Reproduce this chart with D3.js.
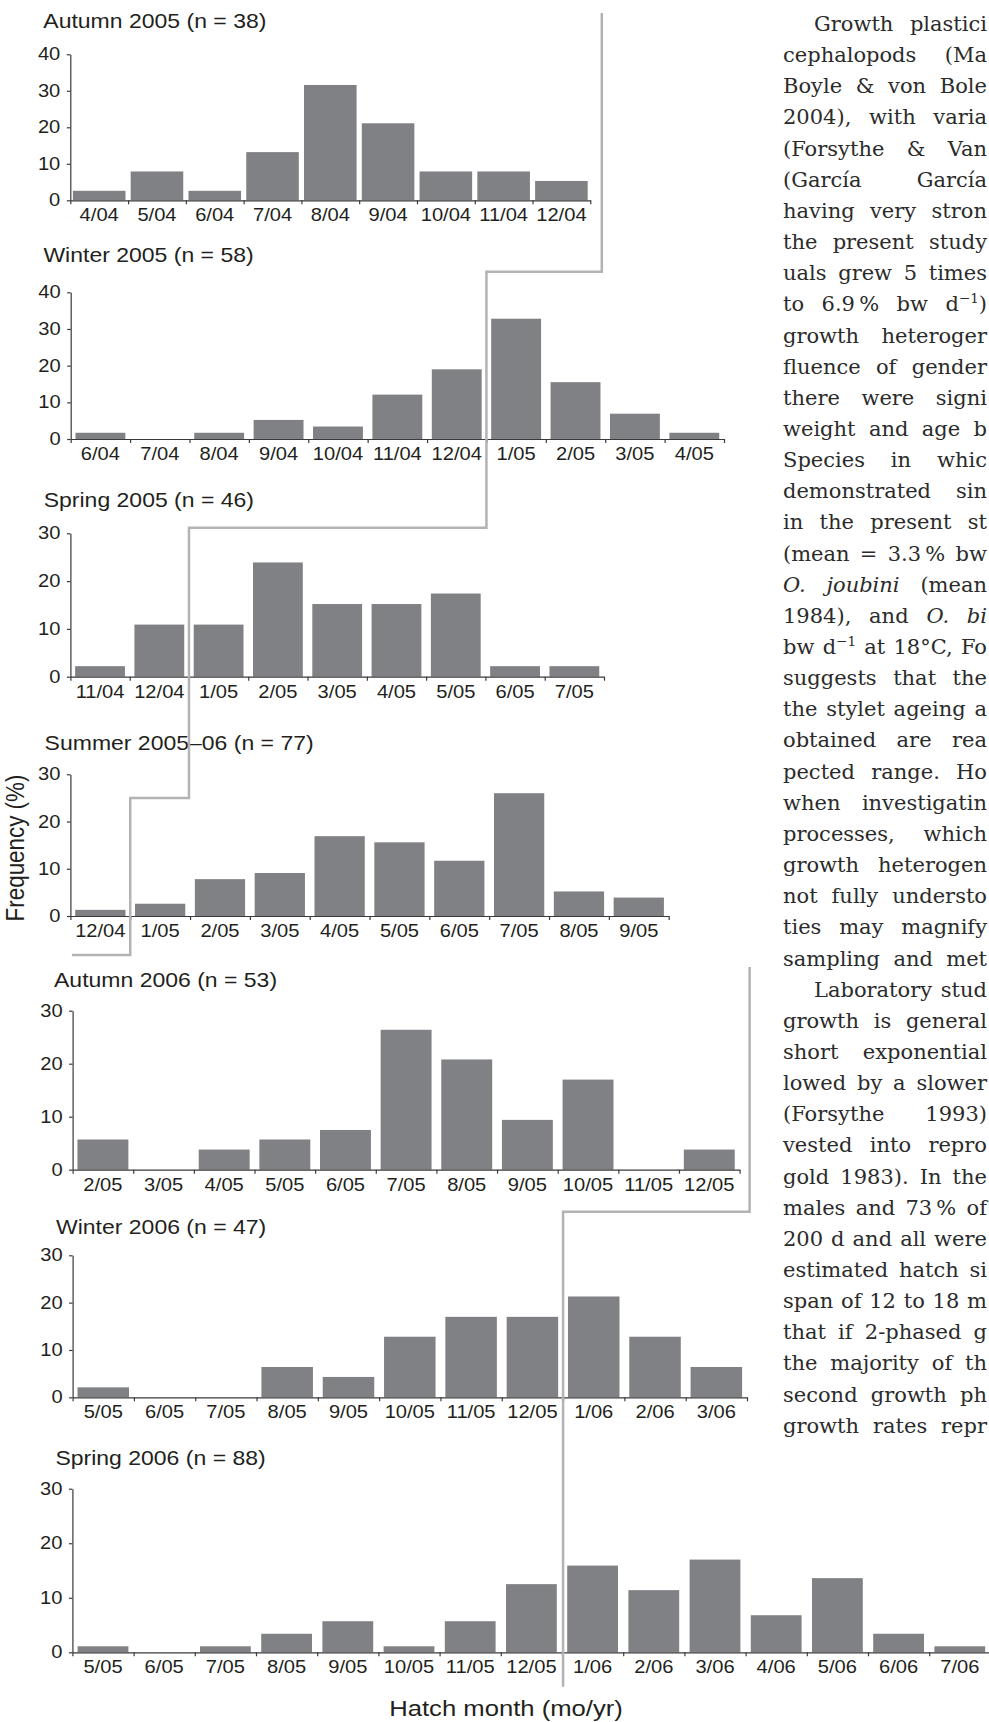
<!DOCTYPE html>
<html><head><meta charset="utf-8">
<script src="https://cdn.jsdelivr.net/npm/d3@7"></script>
<style>html,body{margin:0;padding:0;background:#fff}svg{display:block}</style>
</head><body>
<svg id="c" width="989" height="1722"></svg>
<script>
// ---------------- data ----------------
const titles = ["Autumn 2005 (n = 38)", "Winter 2005 (n = 58)", "Spring 2005 (n = 46)",
  "Summer 2005\u201306 (n = 77)", "Autumn 2006 (n = 53)", "Winter 2006 (n = 47)", "Spring 2006 (n = 88)"];

const monthsAut05 = ["4/04","5/04","6/04","7/04","8/04","9/04","10/04","11/04","12/04"];
const freqAut05   = [2.6, 7.9, 2.6, 13.2, 31.6, 21.1, 7.9, 7.9, 5.3];

const monthsWin05 = ["6/04","7/04","8/04","9/04","10/04","11/04","12/04","1/05","2/05","3/05","4/05"];
const freqWin05   = [1.7, 0, 1.7, 5.2, 3.4, 12.1, 19.0, 32.8, 15.5, 6.9, 1.7];

const monthsSpr05 = ["11/04","12/04","1/05","2/05","3/05","4/05","5/05","6/05","7/05"];
const freqSpr05   = [2.2, 10.9, 10.9, 23.9, 15.2, 15.2, 17.4, 2.2, 2.2];

const monthsSum06 = ["12/04","1/05","2/05","3/05","4/05","5/05","6/05","7/05","8/05","9/05"];
const freqSum06   = [1.3, 2.6, 7.8, 9.1, 16.9, 15.6, 11.7, 26.0, 5.2, 3.9];

const monthsAut06 = ["2/05","3/05","4/05","5/05","6/05","7/05","8/05","9/05","10/05","11/05","12/05"];
const freqAut06   = [5.7, 0, 3.8, 5.7, 7.5, 26.4, 20.8, 9.4, 17.0, 0, 3.8];

const monthsWin06 = ["5/05","6/05","7/05","8/05","9/05","10/05","11/05","12/05","1/06","2/06","3/06"];
const freqWin06   = [2.1, 0, 0, 6.4, 4.3, 12.8, 17.0, 17.0, 21.3, 12.8, 6.4];

const monthsSpr06 = ["5/05","6/05","7/05","8/05","9/05","10/05","11/05","12/05","1/06","2/06","3/06","4/06","5/06","6/06","7/06"];
const freqSpr06   = [1.1, 0, 1.1, 3.4, 5.7, 1.1, 5.7, 12.5, 15.9, 11.4, 17.0, 6.8, 13.6, 3.4, 1.1];

const yTicks40 = [0, 10, 20, 30, 40];
const yTicks30 = [0, 10, 20, 30];
const yAxisTitle = "Frequency (%)";
const xAxisTitle = "Hatch month (mo/yr)";

const monthsList = [monthsAut05, monthsWin05, monthsSpr05, monthsSum06, monthsAut06, monthsWin06, monthsSpr06];
const freqList   = [freqAut05, freqWin05, freqSpr05, freqSum06, freqAut06, freqWin06, freqSpr06];
const yTickList  = [yTicks40, yTicks40, yTicks30, yTicks30, yTicks30, yTicks30, yTicks30];

// body text column printed beside the figure (cut at the page edge)
const bodyLines = [
 [1,"Growth plastici"], [0,"cephalopods (Ma"], [0,"Boyle & von Bole"], [0,"2004), with varia"],
 [0,"(Forsythe & Van"], [0,"(García García"], [0,"having very stron"], [0,"the present study"],
 [0,"uals grew 5 times"], [0,"to 6.9\u2009% bw d^\u22121^)"], [0,"growth heteroger"], [0,"fluence of gender"],
 [0,"there were signi"], [0,"weight and age b"], [0,"Species in whic"], [0,"demonstrated sin"],
 [0,"in the present st"], [0,"(mean = 3.3\u2009% bw"], [0,"*O. joubini* (mean"], [0,"1984), and *O. bi*"],
 [0,"bw d^\u22121^ at 18°C, Fo"], [0,"suggests that the"], [0,"the stylet ageing a"], [0,"obtained are rea"],
 [0,"pected range. Ho"], [0,"when investigatin"], [0,"processes, which"], [0,"growth heterogen"],
 [0,"not fully understo"], [0,"ties may magnify"], [0,"sampling and met"], [1,"Laboratory stud"],
 [0,"growth is general"], [0,"short exponential"], [0,"lowed by a slower"], [0,"(Forsythe 1993)"],
 [0,"vested into repro"], [0,"gold 1983). In the"], [0,"males and 73\u2009% of"], [0,"200 d and all were"],
 [0,"estimated hatch si"], [0,"span of 12 to 18 m"], [0,"that if 2-phased g"], [0,"the majority of th"],
 [0,"second growth ph"], [0,"growth rates repr"]
];

// ---------------- layout ----------------
const layout = [
 {x0:70.3, x1:590.3, yTop:54.3,   y0:200.3,  tx:43.3, ty:28,     pad:0.09},
 {x0:70.7, x1:724.0, yTop:292.3,  y0:439.0,  tx:43.4, ty:261.7,  pad:0.16},
 {x0:70.4, x1:604.0, yTop:533.3,  y0:676.7,  tx:43.7, ty:506.7,  pad:0.16},
 {x0:70.4, x1:668.7, yTop:774.3,  y0:916.0,  tx:44.6, ty:750,    pad:0.16},
 {x0:72.6, x1:739.6, yTop:1010.7, y0:1169.7, tx:54,   ty:987.3,  pad:0.16},
 {x0:72.6, x1:747.0, yTop:1255.3, y0:1397.3, tx:56,   ty:1233.5, pad:0.16},
 {x0:72.4, x1:990.4, yTop:1488.7, y0:1652.3, tx:55.4, ty:1465,   pad:0.17}
];
const SX = 1.15;
const SANS = "'Liberation Sans', Arial, Helvetica, sans-serif";
const BAR = "#808185", INK = "#231f20", AXIS = "#3a3a3a", GUIDE = "#b3b3b3";

const svg = d3.select("#c");
const edgeScales = [], yScales = [];

layout.forEach((L, i) => {
  const months = monthsList[i], vals = freqList[i], ticks = yTickList[i];
  const g = svg.append("g");
  const xEdge = d3.scaleBand().domain(months).range([L.x0, L.x1]);
  const xBar = d3.scaleBand().domain(months).range([L.x0, L.x1]).paddingInner(L.pad).paddingOuter(L.pad / 2);
  const y = d3.scaleLinear().domain([0, d3.max(ticks)]).range([L.y0, L.yTop]);
  edgeScales.push(xEdge); yScales.push(y);

  g.append("g").selectAll("rect").data(months).join("rect")
    .attr("x", d => xBar(d)).attr("width", xBar.bandwidth())
    .attr("y", (d, j) => y(vals[j])).attr("height", (d, j) => L.y0 - y(vals[j]))
    .attr("fill", BAR);

  // x axis line + ticks at month boundaries
  const xi = d3.scaleLinear().domain([0, months.length]).range([L.x0, L.x1]);
  const ax = g.append("g").attr("transform", `translate(0,${L.y0})`)
    .call(d3.axisBottom(xi).tickValues(d3.range(months.length + 1)).tickFormat("").tickSize(4).tickSizeOuter(0));
  ax.selectAll("text").remove();
  ax.selectAll("path,line").attr("stroke", AXIS).attr("stroke-width", 1.2);

  // month labels centred in each month
  const lab = g.append("g").attr("transform", `translate(0,${L.y0})`)
    .call(d3.axisBottom(xEdge).tickSize(0).tickPadding(8.5));
  lab.select(".domain").remove();
  lab.attr("font-family", SANS).attr("font-size", 17.5);
  lab.selectAll("text").attr("fill", INK).attr("transform", `scale(${SX},1)`);

  // y axis
  const ay = g.append("g").attr("transform", `translate(${L.x0},0)`)
    .call(d3.axisLeft(y).tickValues(ticks).tickSize(3.5).tickSizeOuter(0).tickPadding(5.2));
  ay.attr("font-family", SANS).attr("font-size", 17.5);
  ay.selectAll("path,line").attr("stroke", AXIS).attr("stroke-width", 1.2);
  ay.selectAll("text").attr("fill", INK).attr("transform", `scale(${SX},1)`);

  // panel title
  g.append("text").attr("transform", `translate(${L.tx},${L.ty}) scale(${SX},1)`)
    .attr("font-family", SANS).attr("font-size", 20).attr("fill", INK).text(titles[i]);
});

// axis titles
svg.append("text").attr("transform", `translate(15,848) scale(${SX},1) rotate(-90)`)
  .attr("text-anchor", "middle").attr("dy", "0.36em")
  .attr("font-family", SANS).attr("font-size", 22.4).attr("fill", INK).text(yAxisTitle);
svg.append("text").attr("transform", `translate(506,1716) scale(${SX},1)`)
  .attr("text-anchor", "middle")
  .attr("font-family", SANS).attr("font-size", 22.3).attr("fill", INK).text(xAxisTitle);

// grey guide lines marking the turn of the year (Dec | Jan)
const L = layout, E = edgeScales, Y = yScales;
const gA = [
  [L[0].x1 + 11.5, 13],
  [L[0].x1 + 11.5, L[1].yTop - 20.6],
  [E[1]("1/05"), L[1].yTop - 20.6],
  [E[1]("1/05"), L[2].yTop - 5.6],
  [E[2]("1/05"), L[2].yTop - 5.6],
  [E[2]("1/05"), Y[3](25)],
  [E[3]("1/05"), Y[3](25)],
  [E[3]("1/05"), L[3].y0 + 39],
  [L[3].x0 + 1.5, L[3].y0 + 39]
];
const gB = [
  [L[4].x1 + 10, 967],
  [L[4].x1 + 10, L[4].y0 + 42],
  [E[5]("1/06"), L[4].y0 + 42],
  [E[5]("1/06"), L[6].y0 + 34.5]
];
const line = d3.line();
[gA, gB].forEach(p => svg.append("path").attr("d", line(p)).attr("fill", "none")
  .attr("stroke", GUIDE).attr("stroke-width", 2.5).attr("stroke-linejoin", "miter"));

// body text column
const colX = 783, indent = 31, base0 = 31, lead = 31.15, colEnd = 987;
const body = svg.append("g").attr("font-family", "'DejaVu Serif', serif").attr("font-size", 21).attr("fill", "#2b2b2b");
bodyLines.forEach(([ind, s], k) => {
  const x = colX + (ind ? indent : 0);
  const t = body.append("text").attr("x", x).attr("y", base0 + k * lead);
  let pendingDy = 0;
  s.split(/(\*[^*]+\*|\^[^^]+\^)/).filter(p => p.length).forEach(p => {
    let ts;
    if (p[0] === "*") ts = t.append("tspan").attr("font-style", "italic").text(p.slice(1, -1));
    else if (p[0] === "^") { ts = t.append("tspan").attr("font-size", 13.5).text(p.slice(1, -1)); ts.attr("dy", -8 + pendingDy); pendingDy = 8; return; }
    else ts = t.append("tspan").text(p);
    if (pendingDy) { ts.attr("dy", pendingDy); pendingDy = 0; }
  });
  const w = t.node().getComputedTextLength();
  const spaces = (s.match(/ /g) || []).length;
  const target = colEnd - x;
  if (w < target) { if (spaces) t.attr("word-spacing", (target - w) / spaces); }
  else t.attr("textLength", target).attr("lengthAdjust", "spacingAndGlyphs");
});
</script>
</body></html>
